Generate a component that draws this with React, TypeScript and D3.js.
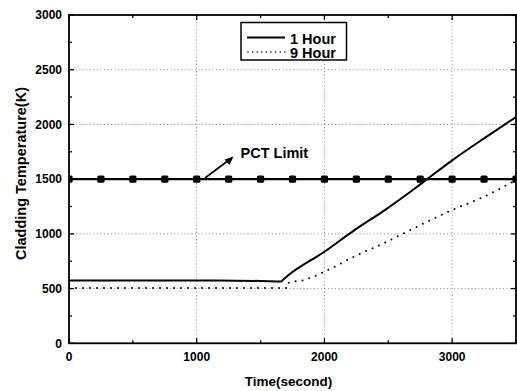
import React from "react";
import * as d3 from "d3";

// Cladding temperature histories (time in s, temperature in K)
const time1h = [0, 500, 1000, 1500, 1660, 1680, 1710, 2000, 2230, 2470, 2700, 2810, 3000, 3250, 3500];
const temp1h = [575, 575, 574, 570, 565, 585, 615, 837, 1030, 1215, 1408, 1505, 1672, 1873, 2068];

const time9h = [0, 1000, 1710, 1720, 1840, 2000, 2230, 2490, 2620, 2780, 3000, 3250, 3430, 3500];
const temp9h = [505, 505, 505, 554, 578, 654, 791, 929, 1005, 1097, 1218, 1340, 1447, 1490];

// Peak cladding temperature limit and its marker positions
const pctLimit = 1500;
const pctMarkerTimes = [0, 250, 500, 750, 1000, 1250, 1500, 1750, 2000, 2250, 2500, 2750, 3000, 3250, 3500];

const xTicks = [0, 1000, 2000, 3000];
const xMinorTicks = [500, 1500, 2500, 3500];
const yTicks = [0, 500, 1000, 1500, 2000, 2500, 3000];
const yMinorTicks = [250, 750, 1250, 1750, 2250, 2750];

const W = 517;
const H = 391;
const left = 69;
const right = 516;
const top = 15;
const bottom = 343.3;

const FONT = "'Liberation Sans', Arial, sans-serif";

export default function App() {
  const x = d3.scaleLinear().domain([0, 3500]).range([left, right]);
  const y = d3.scaleLinear().domain([0, 3000]).range([bottom, top]);

  const line = d3
    .line<[number, number]>()
    .x((d) => x(d[0]))
    .y((d) => y(d[1]))
    .curve(d3.curveMonotoneX);

  const path1 = line(time1h.map((t, i) => [t, temp1h[i]]) as [number, number][]) || "";
  const path9 = line(time9h.map((t, i) => [t, temp9h[i]]) as [number, number][]) || "";
  const pctPath = line([
    [0, pctLimit],
    [3500, pctLimit],
  ]) || "";

  const major = 5;
  const minor = 3;

  return (
    <svg
      width={W}
      height={H}
      style={{ position: "absolute", left: 0, top: 0, background: "#fff" }}
    >
      <defs>
        <clipPath id="plot">
          <rect x={left} y={top} width={right - left} height={bottom - top} />
        </clipPath>
      </defs>

      {/* grid */}
      <g stroke="#666" strokeWidth={0.8} strokeDasharray="1 2.5">
        {xTicks
          .filter((t) => t > 0)
          .map((t) => (
            <line key={"gx" + t} x1={x(t)} x2={x(t)} y1={top} y2={bottom} />
          ))}
        {yTicks
          .filter((t) => t > 0 && t < 3000)
          .map((t) => (
            <line key={"gy" + t} x1={left} x2={right} y1={y(t)} y2={y(t)} />
          ))}
      </g>

      <g clipPath="url(#plot)">
        {/* 9 hour series */}
        <path
          d={path9}
          fill="none"
          stroke="#000"
          strokeWidth={2}
          strokeLinecap="round"
          strokeDasharray="0 7"
        />
        {/* PCT limit */}
        <path d={pctPath} fill="none" stroke="#000" strokeWidth={2.2} />
        {pctMarkerTimes.map((t) => (
          <rect
            key={"m" + t}
            x={x(t) - 3.6}
            y={y(pctLimit) - 3.6}
            width={7.2}
            height={7.2}
            rx={1.5}
            fill="#000"
          />
        ))}
        {/* 1 hour series */}
        <path d={path1} fill="none" stroke="#000" strokeWidth={2} />
      </g>

      {/* frame */}
      <rect
        x={left}
        y={top}
        width={right - left}
        height={bottom - top}
        fill="none"
        stroke="#000"
        strokeWidth={1.8}
      />

      {/* ticks on all four sides */}
      <g stroke="#000" strokeWidth={1.3}>
        {xTicks.map((t) => (
          <g key={"tx" + t}>
            <line x1={x(t)} x2={x(t)} y1={bottom} y2={bottom - major} />
            <line x1={x(t)} x2={x(t)} y1={top} y2={top + major} />
          </g>
        ))}
        {xMinorTicks.map((t) => (
          <g key={"tmx" + t}>
            <line x1={x(t)} x2={x(t)} y1={bottom} y2={bottom - minor} />
            <line x1={x(t)} x2={x(t)} y1={top} y2={top + minor} />
          </g>
        ))}
        {yTicks.map((t) => (
          <g key={"ty" + t}>
            <line x1={left} x2={left + major} y1={y(t)} y2={y(t)} />
            <line x1={right} x2={right - major} y1={y(t)} y2={y(t)} />
          </g>
        ))}
        {yMinorTicks.map((t) => (
          <g key={"tmy" + t}>
            <line x1={left} x2={left + minor} y1={y(t)} y2={y(t)} />
            <line x1={right} x2={right - minor} y1={y(t)} y2={y(t)} />
          </g>
        ))}
      </g>

      {/* tick labels */}
      <g fontFamily={FONT} fontWeight="bold" fontSize={12} fill="#000">
        {xTicks.map((t) => (
          <text key={"lx" + t} x={x(t)} y={361} textAnchor="middle">
            {t}
          </text>
        ))}
        {yTicks.map((t) => (
          <text key={"ly" + t} x={62} y={y(t) + 4.3} textAnchor="end">
            {t}
          </text>
        ))}
      </g>

      {/* axis titles */}
      <text
        x={288.5}
        y={386}
        textAnchor="middle"
        fontFamily={FONT}
        fontWeight="bold"
        fontSize={13.5}
      >
        Time(second)
      </text>
      <text
        transform={`translate(26,173.5) rotate(-90)`}
        textAnchor="middle"
        fontFamily={FONT}
        fontWeight="bold"
        fontSize={14.5}
      >
        Cladding Temperature(K)
      </text>

      {/* PCT annotation */}
      <text x={240.5} y={158.3} fontFamily={FONT} fontWeight="bold" fontSize={14.5}>
        PCT Limit
      </text>
      <line x1={205} y1={178} x2={229} y2={160} stroke="#000" strokeWidth={1.6} />
      <path d="M233.5,156.5 L224.5,159.5 L229.5,165 Z" fill="#000" />

      {/* legend */}
      <rect x={241} y={22.5} width={105.5} height={37.5} fill="#fff" stroke="#000" strokeWidth={1.5} />
      <line x1={247} x2={285} y1={37.5} y2={37.5} stroke="#000" strokeWidth={2} />
      <line
        x1={248}
        x2={285}
        y1={52}
        y2={52}
        stroke="#000"
        strokeWidth={1.6}
        strokeLinecap="round"
        strokeDasharray="0 4.6"
      />
      <g fontFamily={FONT} fontWeight="bold" fontSize={14.5}>
        <text x={290} y={43.5}>1 Hour</text>
        <text x={290} y={58}>9 Hour</text>
      </g>
    </svg>
  );
}
